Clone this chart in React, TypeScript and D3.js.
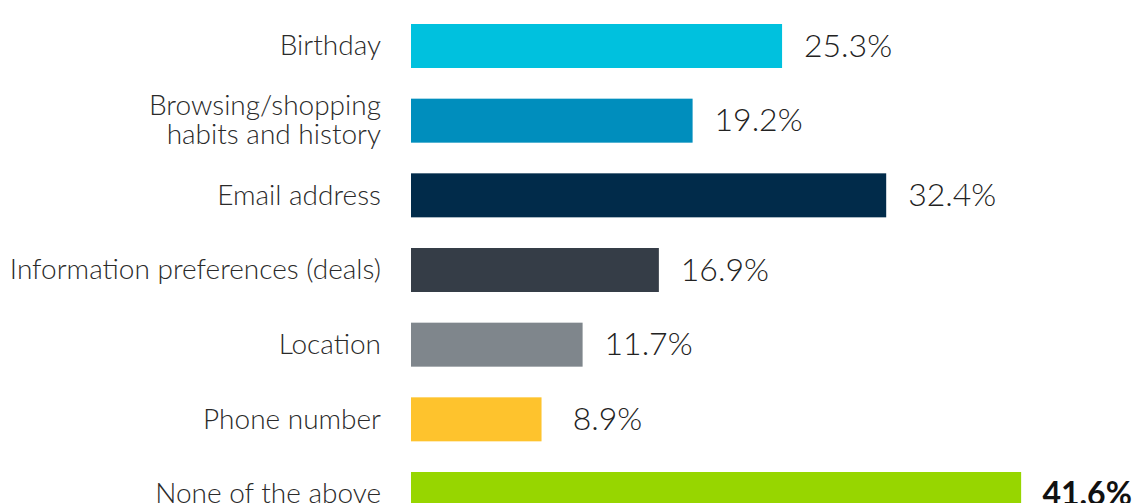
import React from "react";
import * as d3 from "d3";

const categories: string[][] = [
  ["Birthday"],
  ["Browsing/shopping", "habits and history"],
  ["Email address"],
  ["Information preferences (deals)"],
  ["Location"],
  ["Phone number"],
  ["None of the above"],
];
const values: number[] = [25.3, 19.2, 32.4, 16.9, 11.7, 8.9, 41.6];
const valueLabels: string[] = ["25.3%", "19.2%", "32.4%", "16.9%", "11.7%", "8.9%", "41.6%"];
const colors: string[] = ["#00c1de", "#008ebd", "#012b4a", "#353d47", "#7f868c", "#fec32d", "#97d600"];
const boldIndex = 6;

const W = 1138;
const H = 503;

export default function App() {
  const x = d3.scaleLinear().domain([0, 42]).range([411, 411 + 616]);
  const idx = values.map((_, i) => i);
  const y = d3.scaleBand<number>().domain(idx).range([24, 516]).paddingInner(0.4107).paddingOuter(0);
  const bw = y.bandwidth();
  const font = "Lato, 'Open Sans', sans-serif";
  return (
    <svg width={W} height={H} style={{ position: "absolute", left: 0, top: 0, background: "#fff" }}>
      {idx.map((i) => {
        const cy = (y(i) as number) + bw / 2;
        const lines = categories[i];
        const lh = 29;
        return (
          <g key={i}>
            <rect x={x(0)} y={y(i)} width={x(values[i]) - x(0)} height={bw} fill={colors[i]} />
            <text
              textAnchor="end"
              fontFamily={font}
              fontWeight={300}
              fontSize={28}
              fill="#2a2a2a"
            >
              {lines.map((l, j) => (
                <tspan key={j} x={381} y={cy + (j - (lines.length - 1) / 2) * lh} dy="0.33em">
                  {l}
                </tspan>
              ))}
            </text>
            <text
              x={x(values[i]) + 66}
              y={cy}
              dy="0.33em"
              textAnchor="middle"
              fontFamily={font}
              fontWeight={i === boldIndex ? 700 : 300}
              fontSize={32}
              fill={i === boldIndex ? "#111" : "#222"}
            >
              {valueLabels[i]}
            </text>
          </g>
        );
      })}
    </svg>
  );
}
